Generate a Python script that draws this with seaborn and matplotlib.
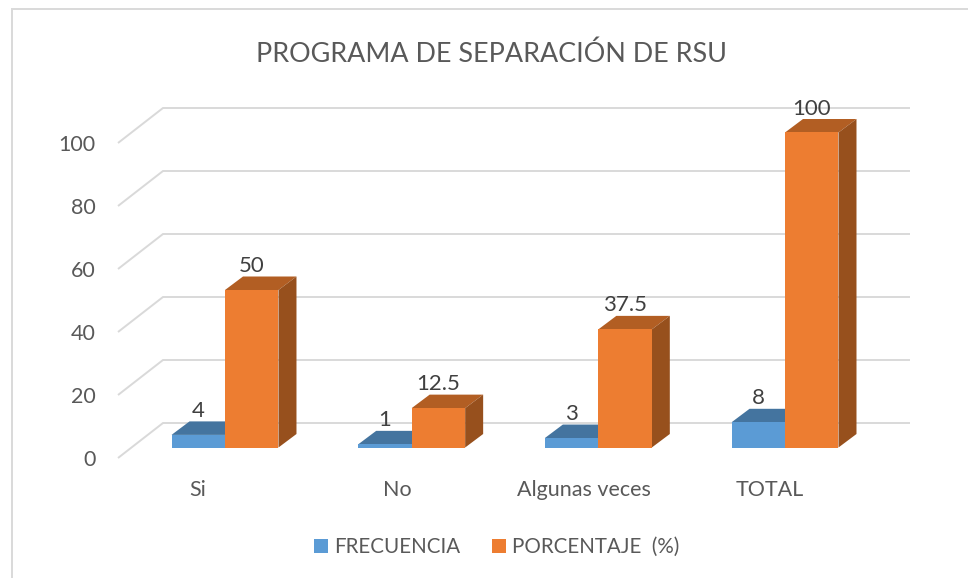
import matplotlib
matplotlib.use("Agg")
import matplotlib.pyplot as plt
from matplotlib.patches import Polygon
from matplotlib.lines import Line2D
from matplotlib.transforms import Affine2D
import pandas as pd
import seaborn as sns

categories = ["Si", "No", "Algunas veces", "TOTAL"]
frecuencia = [4, 1, 3, 8]
porcentaje = [50, 12.5, 37.5, 100]
series_names = ["FRECUENCIA", "PORCENTAJE  (%)"]
y_ticks = [0, 20, 40, 60, 80, 100]
title = "PROGRAMA DE SEPARACIÓN DE RSU"

front_colors = ["#5B9BD5", "#ED7D31"]
top_colors = ["#44749F", "#B25E23"]
side_colors = ["#3A6288", "#97501D"]
TEXT = "#595959"
GRID = "#D9D9D9"

W, H = 968, 578
sns.set_theme(style="white")
plt.rcParams["font.family"] = ["Lato", "DejaVu Sans"]

fig = plt.figure(figsize=(W / 100, H / 100), dpi=100, facecolor="white")
# pixel frame of the axes
L, R, T, B = 118, 910, 100, 458
ax = fig.add_axes([L / W, 1 - B / H, (R - L) / W, (B - T) / H])

# scale: one category = 186.67 px, one y unit = 3.15 px
PX_X, PX_Y = 186.67, 3.15
X0_PX, Y0_PX = 225, 447.5

df = pd.DataFrame({
    "cat": categories * 2,
    "val": frecuencia + porcentaje,
    "serie": [series_names[0]] * 4 + [series_names[1]] * 4,
})
sns.barplot(data=df, x="cat", y="val", hue="serie", hue_order=series_names,
            palette=front_colors, width=0.573, gap=0, saturation=1,
            dodge=True, ax=ax, zorder=3, linewidth=0, legend=True)
ax.set_xlim((L - X0_PX) / PX_X, (R - X0_PX) / PX_X)
ax.set_ylim((Y0_PX - B) / PX_Y, (Y0_PX - T) / PX_Y)

# bar depth in data units
DX, DY = 18 / PX_X, 13.5 / PX_Y
for cont, tc, sc in zip(ax.containers, top_colors, side_colors):
    for bar in cont:
        x0, w, h = bar.get_x(), bar.get_width(), bar.get_height()
        x1 = x0 + w
        ax.add_patch(Polygon([(x0, h), (x1, h), (x1 + DX, h + DY), (x0 + DX, h + DY)],
                             closed=True, fc=tc, ec="none", zorder=2))
        ax.add_patch(Polygon([(x1, 0), (x1 + DX, DY), (x1 + DX, h + DY), (x1, h)],
                             closed=True, fc=sc, ec="none", zorder=2))
    ax.bar_label(cont, fmt="%g", padding=10, fontsize=16, color="#404040", zorder=5)

# walls and gridlines
xf = ax.get_xlim()[0]
xc = (163 - X0_PX) / PX_X
xr = ax.get_xlim()[1]
low, high = (Y0_PX - 458) / PX_Y, (Y0_PX - 423) / PX_Y
for v in y_ticks:
    ax.plot([xf, xc, xr], [v + low, v + high, v + high], color=GRID, lw=1.4,
            zorder=1, solid_capstyle="butt", solid_joinstyle="miter", clip_on=False)

sns.despine(ax=ax, left=True, bottom=True)
ax.set_xlabel("")
ax.set_ylabel("")
ax.set_yticks(y_ticks)
ax.set_xticks(range(len(categories)))
ax.set_xticklabels(categories)
ax.tick_params(axis="both", length=0, labelsize=15.5, labelcolor=TEXT)
ax.tick_params(axis="y", pad=16)
ax.tick_params(axis="x", pad=15.5)
shift_y = Affine2D().translate(0, -10.3)
for lab in ax.get_yticklabels():
    lab.set_transform(lab.get_transform() + shift_y)
for lab, dx in zip(ax.get_xticklabels(), [-27, -14, -14, -15]):
    lab.set_transform(lab.get_transform() + Affine2D().translate(dx, 0))

fig.text(492 / W, 1 - 54.5 / H, title, ha="center", va="center", fontsize=19.4, color=TEXT)

handles, labels = ax.get_legend_handles_labels()
ax.legend(handles, labels, loc="center", bbox_to_anchor=(497 / W, 1 - 547 / H),
          bbox_transform=fig.transFigure, ncol=2, frameon=False, fontsize=14.8,
          labelcolor=TEXT, handlelength=0.67, handleheight=0.67, handletextpad=0.3,
          columnspacing=1.55, borderpad=0)

# chart frame: top and left edges only
fig.add_artist(Line2D([12 / W, 12 / W, 1], [0, 1 - 9 / H, 1 - 9 / H],
                      color=GRID, lw=1.4, solid_joinstyle="miter"))

fig.savefig("out.png", dpi=100, facecolor="white")
